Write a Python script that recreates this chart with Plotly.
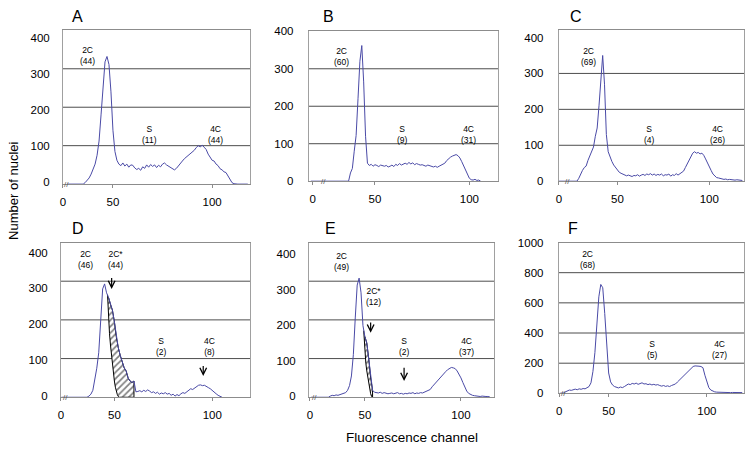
import plotly.graph_objects as go

FONT = "Liberation Sans, Arial, Helvetica, sans-serif"
BLUE = "#4a4aa6"

# ---------------- data ----------------
panel_names = ["A", "B", "C", "D", "E", "F"]

# first fluorescence channel of each histogram
A_start, B_start, C_start, D_start, E_start, F_start = 27, 16, 18, 23, 22, 25

A_counts = [0, 0, 0, 0, 0, 0, 0, 0, 0,
            4, 9, 16, 26, 38, 52, 75, 112, 180, 262,
            318, 332, 311, 240, 140, 85, 62, 52, 48, 55,
            47, 52, 44, 50, 49, 42, 38, 41, 36, 45,
            41, 50, 44, 51, 46, 50, 43, 49, 45, 52,
            55, 50, 47, 44, 40, 37, 41, 48, 56, 60,
            66, 70, 74, 80, 84, 88, 95, 100, 97, 101,
            96, 90, 78, 70, 62, 60, 52, 48, 40, 37,
            32, 30, 22, 12, 4, 1, 0, 0, 0, 0,
            0, 0, 0]

B_counts = [0, 0, 0, 0, 0, 0, 0, 0, 0, 0, 0, 0, 0, 0, 0, 0, 0, 0, 0, 0, 0,
            22, 34, 80, 122, 220, 320, 362, 265, 120, 48,
            42, 45, 40, 44, 42, 39, 43, 41, 40, 42,
            38, 40, 43, 39, 45, 42, 47, 43, 46, 48,
            45, 50, 46, 49, 44, 47, 45, 43, 44, 42,
            40, 43, 41, 40, 38, 40, 37, 40, 42, 44,
            48, 55, 60, 64, 67, 70, 71, 68, 62, 52,
            42, 30, 18, 8, 4, 3, 5, 2, 3, 0]

C_counts = [0, 0, 0, 0, 0, 0, 0, 0, 0, 0, 0,
            8, 20, 30, 38, 42, 58, 72, 82, 95, 125,
            148, 210, 285, 350, 270, 130, 82, 65, 55, 45,
            38, 30, 25, 22, 20, 17, 15, 17, 14, 13,
            16, 15, 18, 14, 17, 19, 16, 20, 18, 21,
            17, 20, 16, 19, 17, 20, 15, 18, 17, 20,
            14, 18, 16, 21, 17, 20, 24, 28, 38, 48,
            58, 68, 78, 82, 78, 80, 76, 78, 72, 62,
            50, 40, 30, 20, 14, 10, 9, 7, 6, 5,
            6, 4, 5, 4, 5, 3, 4, 3, 3, 2]

D_counts = [0, 0, 0, 0, 0, 0, 0, 0, 0, 0, 0, 0, 0,
            0, 3, 8, 18, 45, 75, 115, 200, 280, 293,
            270, 258, 240, 225, 195, 155, 128, 108, 90, 76,
            68, 50, 42, 38, 42, 14, 15, 17, 14, 18,
            15, 19, 16, 12, 14, 10, 13, 8, 11, 9,
            12, 8, 10, 5, 8, 3, 7, 4, 9, 12,
            10, 14, 18, 22, 20, 24, 28, 31, 32, 30,
            31, 29, 25, 22, 17, 12, 9, 5, 2, 0]

E_counts = [0, 0, 0, 0, 0, 0, 0, 0, 0, 0,
            3, 5, 4, 6, 5, 7, 8, 9, 12, 18,
            30, 55, 110, 205, 290, 308, 270, 185, 157, 140,
            100, 50, 18, 13, 12, 11, 13, 10, 12, 11,
            9, 10, 11, 9, 10, 12, 9, 10, 8, 10,
            9, 11, 10, 12, 9, 11, 10, 12, 11, 13,
            14, 16, 20, 27, 33, 38, 43, 48, 54, 60,
            66, 71, 74, 77, 76, 74, 68, 60, 50, 38,
            26, 16, 10, 7, 5, 4, 3, 3, 2, 3,
            2, 2, 2, 1]

F_counts = [0, 0, 3, 10, 18, 22, 20, 25, 28, 24,
            30, 27, 32, 30, 36, 45, 70, 145, 270, 450,
            640, 722, 700, 530, 310, 135, 76, 55, 45, 40,
            36, 42, 38, 45, 55, 62, 58, 66, 62, 68,
            60, 65, 70, 62, 64, 58, 62, 56, 60, 55,
            58, 52, 48, 52, 46, 50, 45, 52, 55, 62,
            75, 88, 100, 112, 125, 138, 150, 165, 178, 182,
            183, 180, 178, 170, 120, 70, 38, 22, 14, 10,
            8, 7, 6, 7, 6, 5, 6, 5, 6, 5,
            6, 5, 6, 5]

# left edge of the hatched 2C* population (black outline)
D_star_ch = [46.5, 47, 47.5, 48, 48.5, 49, 49.5, 50, 50.5, 51, 51.5, 52, 52.5]
D_star_val = [265, 200, 165, 135, 108, 82, 60, 42, 26, 15, 7, 2, 0]
D_star_last = 60   # last histogram channel inside the hatch
E_star_ch = [49.4, 50, 50.2, 50.5, 51, 51.5, 52, 52.5, 53, 53.5, 53.8]
E_star_val = [172, 125, 100, 88, 68, 50, 35, 20, 9, 2, 0]
E_star_last = 54

# peak labels (text) per panel
A_labels = ["2C<br>(44)", "S<br>(11)", "4C<br>(44)"]
B_labels = ["2C<br>(60)", "S<br>(9)", "4C<br>(31)"]
C_labels = ["2C<br>(69)", "S<br>(4)", "4C<br>(26)"]
D_labels = ["2C<br>(46)", "2C*<br>(44)", "S<br>(2)", "4C<br>(8)"]
E_labels = ["2C<br>(49)", "2C*<br>(12)", "S<br>(2)", "4C<br>(37)"]
F_labels = ["2C<br>(68)", "S<br>(5)", "4C<br>(27)"]

x_tick_text = ["0", "50", "100"]
y_ticks_400 = [0, 100, 200, 300, 400]
y_ticks_1000 = [0, 200, 400, 600, 800, 1000]

# ---------------- layout geometry ----------------
W, H = 745, 449
geom = {
    "A": dict(px=(60, 248), py=(25, 183), lpy=(33, 181), xr=(24.7, 119.1), x0=24.8, yr=(0, 400), yt=y_ticks_400, grid=[100, 200, 300], brk=26.8,
              lab=[(37.3, 334), (68.4, 129), (101.5, 129)], letter=(74.5, 11)),
    "B": dict(px=(307, 497), py=(26, 180), lpy=None, xr=(14.9, 115.2), x0=17.0, yr=(0, 400), yt=y_ticks_400, grid=[100, 200, 300], brk=22.8,
              lab=[(32.3, 332), (64.7, 125), (99.6, 125)], letter=(326.7, 11)),
    "C": dict(px=(558, 744), py=(25, 180), lpy=None, xr=(18.1, 118.9), x0=18.2, yr=(0, 420), yt=y_ticks_400, grid=[100, 200, 300], brk=23.1,
              lab=[(34.5, 347), (67.5, 130), (104.3, 130)], letter=(575.5, 11)),
    "D": dict(px=(58, 248), py=(243, 402), lpy=(253.3, 400.3), xr=(22.6, 119.3), x0=22.7, yr=(0, 400), yt=y_ticks_400, grid=[100, 200, 300], brk=25.2,
              lab=[(35.4, 355), (50.7, 355), (74.0, 130), (98.5, 130)], letter=(75.8, 228.5)),
    "E": dict(px=(307, 493), py=(243, 402), lpy=(255, 401), xr=(20.8, 117.2), x0=21.4, yr=(0, 400), yt=y_ticks_400, grid=[100, 200, 300], brk=23.9,
              lab=[(37.9, 352), (54.4, 260), (70.4, 130), (102.8, 130)], letter=(329, 228.5)),
    "F": dict(px=(558, 744), py=(243, 398), lpy=None, xr=(24.6, 118.9), x0=24.8, yr=(0, 1000), yt=y_ticks_1000, grid=[200, 400, 600, 800], brk=27.2,
              lab=[(39.2, 890), (72.3, 290), (106.2, 290)], letter=(572.5, 228.5)),
}
arrows = {
    "D": [((48.6, 280), (48.6, 312)), ((95.4, 55), (95.4, 85))],
    "E": [((53.0, 167), (53.0, 197)), ((70.4, 42), (70.4, 80))],
}

starts = dict(A=A_start, B=B_start, C=C_start, D=D_start, E=E_start, F=F_start)
counts = dict(A=A_counts, B=B_counts, C=C_counts, D=D_counts, E=E_counts, F=F_counts)
labels = dict(A=A_labels, B=B_labels, C=C_labels, D=D_labels, E=E_labels, F=F_labels)
stars = dict(D=(D_star_ch, D_star_val, D_star_last), E=(E_star_ch, E_star_val, E_star_last))

fig = go.Figure()
layout = dict(
    width=W, height=H, margin=dict(l=0, r=0, t=0, b=0),
    paper_bgcolor="white", plot_bgcolor="rgba(0,0,0,0)", showlegend=False,
    font=dict(family=FONT, color="black"),
)
annotations = []
shapes = []
ytick_font = dict(family=FONT, size=11.5, color="black")
extra_axis = 7

for i, name in enumerate(panel_names, start=1):
    g = geom[name]
    sfx = "" if i == 1 else str(i)
    xa, ya = "x" + sfx, "y" + sfx
    ch = list(range(starts[name], starts[name] + len(counts[name])))
    vals = counts[name]

    # the printed value labels sit on a slightly compressed scale in some panels
    if g["lpy"] is not None:
        ly = "y" + str(extra_axis)
        layout["yaxis" + str(extra_axis)] = dict(
            domain=[1 - g["lpy"][1] / H, 1 - g["lpy"][0] / H], range=list(g["yr"]), anchor=xa,
            tickmode="array", tickvals=g["yt"], showgrid=False, zeroline=False, showline=False,
            ticks="", ticklabelstandoff=12, tickfont=ytick_font)
        fig.add_trace(go.Scatter(x=[None], y=[None], xaxis=xa, yaxis=ly, mode="lines",
                                 hoverinfo="skip"))
        extra_axis += 1

    # hatched 2C* population
    if name in stars:
        s_ch, s_val, s_last = stars[name]
        blue_ch = [c for c in ch if s_ch[0] < c <= s_last][::-1]
        blue_val = [vals[ch.index(c)] for c in blue_ch]
        fig.add_trace(go.Scatter(
            x=s_ch + [s_last] + blue_ch, y=s_val + [0] + blue_val,
            xaxis=xa, yaxis=ya, mode="lines", fill="toself",
            fillcolor="white",
            fillpattern=dict(shape="/", fgcolor="black", bgcolor="white", size=4.5, solidity=0.38),
            line=dict(color="black", width=1), hoverinfo="skip"))

    fig.add_trace(go.Scatter(x=ch, y=vals, xaxis=xa, yaxis=ya, mode="lines",
                             line=dict(color=BLUE, width=1), hoverinfo="skip"))

    layout["xaxis" + sfx] = dict(
        domain=[g["px"][0] / W, g["px"][1] / W], range=list(g["xr"]), anchor=ya,
        tickmode="array", tickvals=[g["x0"], 50, 100], ticktext=x_tick_text,
        showgrid=False, zeroline=False, showline=True, linecolor="#8c8c8c", linewidth=1,
        mirror=True, ticks="outside", ticklen=3, tickcolor="#8c8c8c",
        ticklabelstandoff=4, tickfont=dict(family=FONT, size=11.5, color="black"))
    layout["yaxis" + sfx] = dict(
        domain=[1 - g["py"][1] / H, 1 - g["py"][0] / H], range=list(g["yr"]), anchor=xa,
        tickmode="array", tickvals=g["yt"], showgrid=False, zeroline=False,
        showline=True, linecolor="#a0a0a0", linewidth=1, mirror=True, ticks="",
        showticklabels=g["lpy"] is None,
        ticklabelstandoff=12, tickfont=ytick_font)

    for gv in g["grid"]:
        shapes.append(dict(type="line", xref=f"{xa} domain", yref=ya, x0=0, x1=1, y0=gv, y1=gv,
                           line=dict(color="#4d4d4d", width=1), layer="below"))

    for txt, (lx, lyv) in zip(labels[name], g["lab"]):
        annotations.append(dict(x=lx, y=lyv, xref=xa, yref=ya, text=txt, showarrow=False,
                                font=dict(family=FONT, size=8.5, color="black"),
                                xanchor="center", yanchor="middle"))

    for (tip, tail) in arrows.get(name, []):
        annotations.append(dict(x=tip[0], y=tip[1], ax=tail[0], ay=tail[1], xref=xa, yref=ya,
                                axref=xa, ayref=ya, text="", showarrow=True, arrowhead=5,
                                arrowsize=1.1, arrowwidth=1.2, arrowcolor="black"))

    # axis-break mark
    annotations.append(dict(x=g["brk"], y=0, xref=xa, yref=ya, text="//", showarrow=False,
                            font=dict(family=FONT, size=8, color="#555"),
                            xanchor="center", yanchor="middle"))

    # panel letter
    annotations.append(dict(x=g["letter"][0] / W, y=1 - g["letter"][1] / H, xref="paper", yref="paper",
                            text=name, showarrow=False, font=dict(family=FONT, size=16, color="black"),
                            xanchor="center", yanchor="middle"))

annotations.append(dict(x=11 / W, y=1 - 190 / H, xref="paper", yref="paper", text="Number of nuclei",
                        textangle=-90, showarrow=False, font=dict(family=FONT, size=13, color="black"),
                        xanchor="center", yanchor="middle"))
annotations.append(dict(x=411 / W, y=1 - 443 / H, xref="paper", yref="paper", text="Fluorescence channel",
                        showarrow=False, font=dict(family=FONT, size=13.5, color="black"),
                        xanchor="center", yanchor="middle"))

layout["annotations"] = annotations
layout["shapes"] = shapes
fig.update_layout(**layout)
fig.write_html("out.html", config={"displayModeBar": False},
               post_script="document.body.style.margin='0';document.body.style.overflow='hidden';")
